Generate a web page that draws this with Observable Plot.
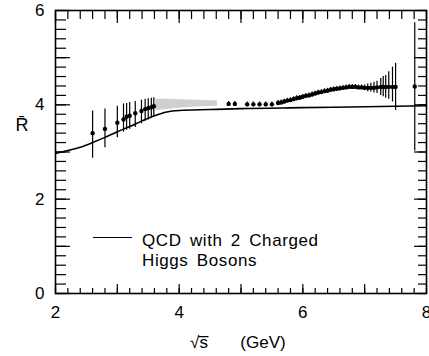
<!DOCTYPE html>
<html><head><meta charset="utf-8">
<script src="https://cdn.jsdelivr.net/npm/d3@7"></script>
<script src="https://cdn.jsdelivr.net/npm/@observablehq/plot@0.6"></script>
<style>
body{margin:0;background:#fff;}
#wrap{position:relative;width:429px;height:356px;}
#legend{position:absolute;left:0;top:0;font-family:"Liberation Sans",Arial,sans-serif;font-size:17px;color:#000;}
#legend .line{position:absolute;left:93px;top:237px;width:39px;border-top:1.6px solid #000;}
#legend .txt{position:absolute;left:142px;top:231px;line-height:20px;white-space:nowrap;letter-spacing:0.6px;word-spacing:3px;}
</style></head><body>
<div id="wrap"><div id="chart"></div>
<div id="legend"><div class="line"></div><div class="txt">QCD with 2 Charged<br>Higgs Bosons</div></div></div>
<script>
// Measured points: energy (GeV), R-bar, lower and upper error bar ends
const energy = [2.60,2.80,3.00,3.10,3.15,3.20,3.29,3.39,3.45,3.50,3.55,3.59,
  4.80,4.90,5.10,5.20,5.30,5.40,5.50,5.60,
  5.65,5.70,5.75,5.80,5.85,5.90,5.95,6.00,6.05,6.10,6.15,6.20,6.25,6.30,6.35,6.40,6.45,6.50,6.55,6.60,6.65,6.70,6.75,6.80,6.85,6.90,6.95,7.00,7.05,7.10,7.15,7.20,7.26,7.30,7.34,7.39,7.45,7.50,
  7.81];
const rbar = [3.40,3.49,3.62,3.69,3.75,3.77,3.82,3.87,3.91,3.93,3.95,3.97,
  4.02,4.02,4.01,4.01,4.01,4.01,4.01,4.04,
  4.05,4.07,4.09,4.10,4.12,4.14,4.15,4.17,4.19,4.20,4.22,4.24,4.26,4.27,4.29,4.30,4.32,4.33,4.34,4.35,4.36,4.37,4.38,4.38,4.38,4.37,4.37,4.36,4.36,4.36,4.36,4.37,4.38,4.38,4.38,4.38,4.38,4.38,
  4.39];
const errLo = [2.87,3.09,3.30,3.42,3.46,3.48,3.52,3.60,3.65,3.68,3.72,3.76,
  3.97,3.97,3.96,3.96,3.96,3.96,3.96,3.99,
  4.00,4.02,4.04,4.05,4.07,4.09,4.10,4.12,4.14,4.15,4.17,4.19,4.21,4.22,4.24,4.25,4.27,4.28,4.29,4.30,4.31,4.32,4.33,4.33,4.33,4.32,4.32,4.30,4.28,4.27,4.25,4.24,4.20,4.17,4.14,4.12,4.06,3.88,
  3.02];
const errHi = [3.87,3.91,3.97,4.02,4.03,4.05,4.07,4.10,4.12,4.13,4.14,4.15,
  4.07,4.07,4.06,4.06,4.06,4.06,4.06,4.09,
  4.10,4.12,4.14,4.15,4.17,4.19,4.20,4.22,4.24,4.25,4.27,4.29,4.31,4.32,4.34,4.35,4.37,4.38,4.39,4.40,4.41,4.42,4.43,4.43,4.43,4.42,4.42,4.42,4.44,4.46,4.48,4.50,4.56,4.60,4.62,4.70,4.80,4.88,
  5.74];
// Dense shaded region (3.6 - 4.6 GeV)
const bandEnergy = [3.62,3.80,4.00,4.20,4.40,4.62];
const bandLo = [3.88,3.90,3.93,3.95,3.96,3.97];
const bandHi = [4.12,4.12,4.11,4.10,4.09,4.08];
// QCD with 2 charged Higgs bosons curve
const qcdEnergy = [2.0,2.2,2.4,2.6,2.8,3.0,3.2,3.4,3.6,3.8,4.0,4.5,5.0,6.0,7.0,8.0];
const qcdR = [2.97,3.03,3.10,3.20,3.31,3.43,3.54,3.66,3.77,3.85,3.88,3.90,3.92,3.94,3.96,3.98];
const xTickLabels = [2,4,6,8];
const yTickLabels = [0,2,4,6];
const xMinor = d3.range(2, 8.001, 0.2).map(v => +v.toFixed(1));
const xMajor = [2,3,4,5,6,7,8];
const yMinor = d3.range(0, 6.001, 0.2).map(v => +v.toFixed(1));
const yMajor = [0,1,2,3,4,5,6];

const pts = energy.map((e,i) => ({x: e, y: rbar[i], lo: errLo[i], hi: errHi[i]}));
const band = bandEnergy.map((e,i) => ({x: e, lo: bandLo[i], hi: bandHi[i]}));
const qcd = qcdEnergy.map((e,i) => ({x: e, y: qcdR[i]}));

const W = 429, H = 356, mL = 55, mR = 3, mT = 10, mB = 63;
const pw = W - mL - mR, ph = H - mT - mB;

const chart = Plot.plot({
  width: W, height: H,
  marginLeft: mL, marginRight: mR, marginTop: mT, marginBottom: mB,
  style: {fontFamily: "'Liberation Sans', Arial, sans-serif", fontSize: "17px", color: "#000", background: "#fff"},
  x: {domain: [2, 8]},
  y: {domain: [0, 6]},
  marks: [
    Plot.areaY(band, {x: "x", y1: "lo", y2: "hi", fill: "#cfcfcf"}),
    // inward ticks
    Plot.tickX(xMinor, {x: d => d, insetTop: ph - 5, strokeWidth: 1.2}),
    Plot.tickX(xMajor, {x: d => d, insetTop: ph - 9, strokeWidth: 1.2}),
    Plot.tickX(xMinor, {x: d => d, insetBottom: ph - 9, strokeWidth: 1.2}),
    Plot.tickX(xMajor, {x: d => d, insetBottom: ph - 13, strokeWidth: 1.2}),
    Plot.tickY(yMinor, {y: d => d, insetRight: pw - 11, strokeWidth: 1.2}),
    Plot.tickY(yMajor, {y: d => d, insetRight: pw - 15, strokeWidth: 1.2}),
    Plot.tickY(yMinor, {y: d => d, insetLeft: pw - 8, strokeWidth: 1.2}),
    Plot.tickY(yMajor, {y: d => d, insetLeft: pw - 12, strokeWidth: 1.2}),
    Plot.frame({stroke: "#000", strokeWidth: 1.6}),
    Plot.axisX(xTickLabels, {anchor: "bottom", tickSize: 0, tickPadding: 12, label: null, tickFormat: d => String(d)}),
    Plot.axisY(yTickLabels, {anchor: "left", tickSize: 0, tickPadding: 11, label: null, tickFormat: d => String(d)}),
    Plot.line(qcd, {x: "x", y: "y", curve: "monotone-x", stroke: "#000", strokeWidth: 1.6}),
    Plot.ruleX(pts, {x: "x", y1: "lo", y2: "hi", stroke: "#000", strokeWidth: 1.2}),
    Plot.dot(pts, {x: "x", y: "y", r: 2.2, fill: "#000", stroke: null}),
    Plot.text(["\u221As\u0305"], {frameAnchor: "bottom", dx: -42, dy: 54, fontSize: 17}),
    Plot.text(["(GeV)"], {frameAnchor: "bottom", dx: 22, dy: 54, fontSize: 17}),
    Plot.text(["R\u0304"], {frameAnchor: "left", dx: -40, dy: -27, fontSize: 18})
  ]
});
document.getElementById("chart").appendChild(chart);
</script></body></html>
